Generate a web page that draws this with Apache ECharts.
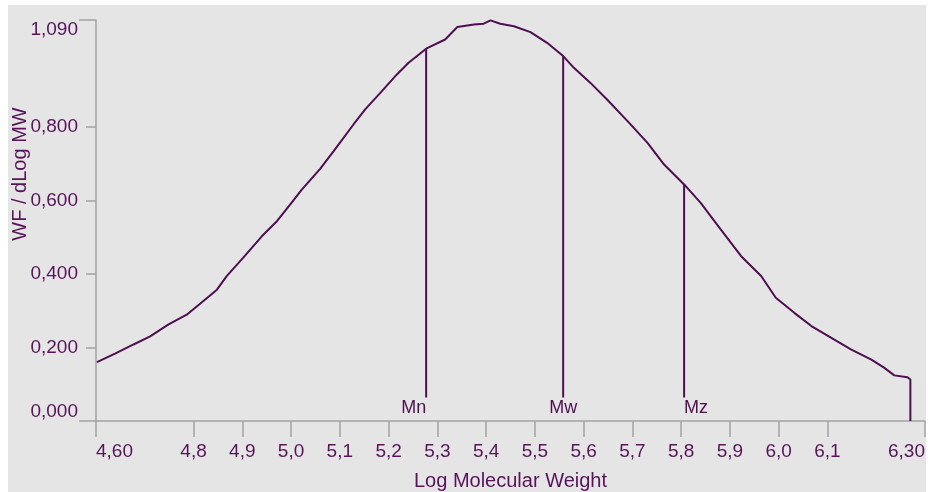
<!DOCTYPE html>
<html>
<head>
<meta charset="utf-8">
<script src="https://cdn.jsdelivr.net/npm/echarts@6/dist/echarts.min.js"></script>
<style>
  html, body { margin: 0; padding: 0; background: #ffffff; }
  #wrap { position: relative; width: 928px; height: 492px; background: #ffffff; overflow: hidden; }
  #bg { position: absolute; left: 8px; top: 5px; right: 2px; bottom: 0; background: #e5e5e5; }
  #chart { position: absolute; left: 0; top: 0; width: 928px; height: 492px; }
</style>
</head>
<body>
<div id="wrap"><div id="bg"></div><div id="chart"></div></div>
<script>
// ---- data ----
const logMW = [4.602, 4.639, 4.677, 4.711, 4.748, 4.786, 4.824, 4.848, 4.868, 4.902,
  4.940, 4.971, 4.998, 5.022, 5.060, 5.087, 5.128, 5.152, 5.183, 5.217,
  5.241, 5.277, 5.316, 5.341, 5.375, 5.395, 5.409, 5.429, 5.457, 5.491,
  5.525, 5.558, 5.580, 5.614, 5.648, 5.690, 5.731, 5.765, 5.806, 5.840,
  5.881, 5.923, 5.964, 5.994, 6.032, 6.067, 6.108, 6.149, 6.190, 6.216,
  6.237, 6.264, 6.270, 6.270];
const wfdLogMW = [0.160, 0.183, 0.208, 0.230, 0.262, 0.289, 0.330, 0.357, 0.394, 0.444,
  0.502, 0.543, 0.588, 0.629, 0.686, 0.733, 0.806, 0.847, 0.892, 0.942,
  0.974, 1.012, 1.037, 1.071, 1.078, 1.080, 1.089, 1.080, 1.073, 1.057,
  1.028, 0.992, 0.960, 0.919, 0.874, 0.815, 0.756, 0.697, 0.643, 0.593,
  0.521, 0.448, 0.394, 0.335, 0.294, 0.258, 0.226, 0.194, 0.167, 0.145,
  0.124, 0.119, 0.113, 0.000];

const markerNames = ['Mn', 'Mw', 'Mz'];
const markerX = [5.277, 5.558, 5.806];
const markerTop = [1.012, 0.992, 0.643];
const markerBase = 0.064;
const markerAlign = ['right', 'center', 'left'];

const xTickValues = [4.6, 4.8, 4.9, 5.0, 5.1, 5.2, 5.3, 5.4, 5.5, 5.6, 5.7, 5.8, 5.9, 6.0, 6.1, 6.3];
const yTickValues = [0, 0.2, 0.4, 0.6, 0.8, 1.09];
const xMin = 4.6, xMax = 6.3, yMin = 0, yMax = 1.09;

// ---- styles ----
const textColor = '#58135a';
const lineColor = '#4e0f50';
const axisColor = '#a3a3a3';
const font = 'Liberation Sans, Arial, sans-serif';

const chart = echarts.init(document.getElementById('chart'), null, { renderer: 'canvas' });

const curve = logMW.map((x, i) => [x, wfdLogMW[i]]);

const markerSeries = markerNames.map((name, i) => ({
  type: 'line',
  name: name,
  data: [[markerX[i], markerBase], [markerX[i], markerTop[i]]],
  symbol: 'none',
  lineStyle: { color: lineColor, width: 2 },
  silent: true,
  z: 3
}));

const labelSeries = {
  type: 'scatter',
  symbolSize: 0,
  silent: true,
  itemStyle: { opacity: 1 },
  data: markerNames.map((name, i) => ({
    value: [markerX[i], markerBase],
    label: {
      show: true,
      formatter: name,
      position: 'bottom',
      distance: 2,
      align: markerAlign[i],
      color: lineColor,
      fontFamily: font,
      fontSize: 18
    }
  }))
};

function fmtX(v) {
  const isEnd = Math.abs(v - xMin) < 1e-6 || Math.abs(v - xMax) < 1e-6;
  return (isEnd ? v.toFixed(2) : v.toFixed(1)).replace('.', ',');
}

chart.setOption({
  backgroundColor: 'transparent',
  animation: false,
  grid: { left: 96, right: 3, top: 20, bottom: 71, containLabel: false, outerBoundsMode: 'none' },
  xAxis: {
    type: 'value',
    min: xMin, max: xMax,
    name: 'Log Molecular Weight',
    nameLocation: 'middle',
    nameGap: 50,
    nameTextStyle: { color: textColor, fontFamily: font, fontSize: 20 },
    axisLine: { show: true, onZero: false, lineStyle: { color: axisColor, width: 1.5 } },
    axisTick: { show: true, length: 16, customValues: xTickValues, lineStyle: { color: axisColor, width: 1.5 } },
    axisLabel: {
      customValues: xTickValues,
      formatter: fmtX,
      color: textColor, fontFamily: font, fontSize: 19,
      margin: 21,
      alignMinLabel: 'left', alignMaxLabel: 'right'
    },
    splitLine: { show: false }
  },
  yAxis: [{
    type: 'value',
    min: yMin, max: yMax,
    axisLine: { show: true, lineStyle: { color: axisColor, width: 1.5 } },
    axisTick: { show: true, length: 10, customValues: [0.2, 0.4, 0.6, 0.8], lineStyle: { color: axisColor, width: 1.5 } },
    axisLabel: {
      customValues: yTickValues,
      formatter: v => v.toFixed(3).replace('.', ','),
      color: textColor, fontFamily: font, fontSize: 19,
      margin: 18,
      verticalAlignMinLabel: 'bottom', verticalAlignMaxLabel: 'top'
    },
    splitLine: { show: false }
  }, {
    type: 'value',
    position: 'left',
    min: yMin, max: yMax,
    axisLine: { show: false },
    axisTick: { show: true, length: 17, customValues: [yMin, yMax], lineStyle: { color: axisColor, width: 1.5 } },
    axisLabel: { show: false },
    splitLine: { show: false }
  }],
  graphic: [{
    type: 'text',
    x: 20, y: 174,
    rotation: Math.PI / 2,
    style: {
      text: 'WF / dLog MW',
      fill: textColor,
      font: '20px ' + font,
      align: 'center',
      verticalAlign: 'middle'
    }
  }],
  series: [{
    type: 'line',
    name: 'WF / dLog MW',
    data: curve,
    symbol: 'none',
    lineStyle: { color: lineColor, width: 2 },
    silent: true,
    z: 4
  }].concat(markerSeries, [labelSeries])
});
</script>
</body>
</html>
